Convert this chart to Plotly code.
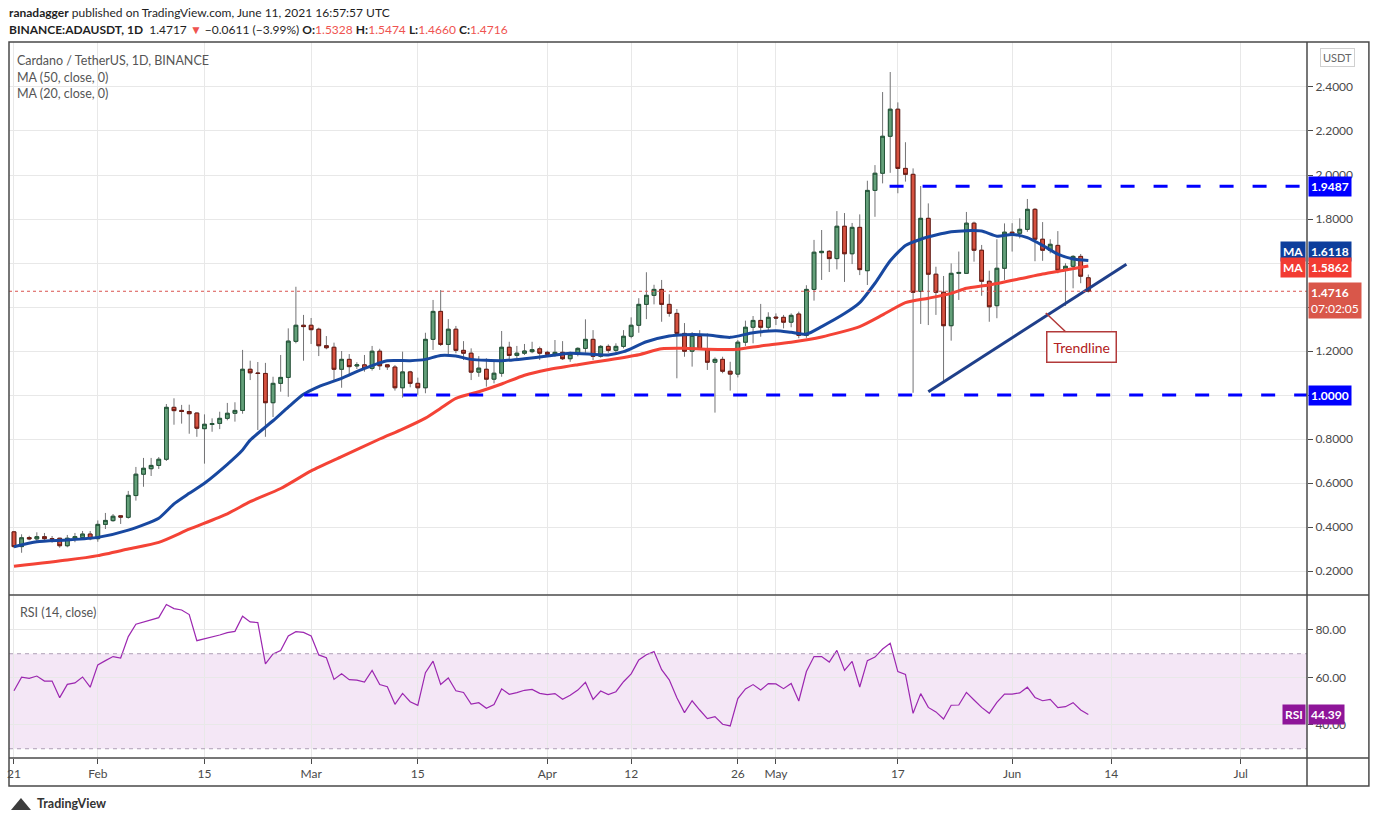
import pandas as pd
import plotly.graph_objects as go
from plotly.subplots import make_subplots

# daily ADA/USDT candles, Jan 21 .. Jun 11 2021
start_day = '2021-01-21'
opens = [0.378, 0.311, 0.352, 0.346, 0.356, 0.347, 0.349, 0.315, 0.349, 0.352,
         0.368, 0.347, 0.412, 0.429, 0.451, 0.444, 0.543, 0.640, 0.665, 0.680,
         0.708, 0.944, 0.930, 0.925, 0.918, 0.847, 0.866, 0.871, 0.894, 0.917,
         0.930, 1.117, 1.100, 1.098, 0.965, 1.053, 1.080, 1.244, 1.317, 1.317,
         1.299, 1.224, 1.217, 1.117, 1.162, 1.132, 1.137, 1.121, 1.199, 1.137,
         1.127, 1.033, 1.105, 1.053, 1.033, 1.253, 1.380, 1.230, 1.299, 1.203,
         1.190, 1.104, 1.117, 1.072, 1.099, 1.217, 1.180, 1.190, 1.197, 1.210,
         1.194, 1.185, 1.194, 1.165, 1.185, 1.212, 1.253, 1.176, 1.221, 1.203,
         1.221, 1.267, 1.317, 1.412, 1.453, 1.480, 1.412, 1.371, 1.280, 1.199,
         1.267, 1.208, 1.149, 1.162, 1.108, 1.095, 1.240, 1.308, 1.339, 1.308,
         1.354, 1.353, 1.331, 1.368, 1.271, 1.480, 1.647, 1.653, 1.620, 1.767,
         1.642, 1.762, 1.565, 1.930, 2.008, 2.176, 2.299, 2.030, 2.003, 1.471,
         1.803, 1.549, 1.467, 1.315, 1.553, 1.553, 1.781, 1.658, 1.517, 1.406,
         1.576, 1.740, 1.735, 1.753, 1.844, 1.708, 1.658, 1.680, 1.567, 1.585,
         1.630, 1.5328]
highs = [0.382, 0.367, 0.360, 0.376, 0.373, 0.359, 0.351, 0.364, 0.373, 0.382,
         0.382, 0.430, 0.464, 0.459, 0.453, 0.564, 0.673, 0.714, 0.714, 0.718,
         0.959, 0.985, 0.955, 0.956, 0.920, 0.912, 0.894, 0.924, 0.964, 0.967,
         1.205, 1.156, 1.150, 1.146, 1.083, 1.182, 1.303, 1.492, 1.364, 1.350,
         1.306, 1.268, 1.238, 1.200, 1.186, 1.149, 1.182, 1.223, 1.210, 1.140,
         1.136, 1.197, 1.110, 1.079, 1.283, 1.432, 1.477, 1.345, 1.314, 1.245,
         1.212, 1.177, 1.167, 1.159, 1.291, 1.242, 1.223, 1.232, 1.242, 1.220,
         1.201, 1.250, 1.245, 1.197, 1.217, 1.344, 1.295, 1.227, 1.230, 1.235,
         1.295, 1.353, 1.440, 1.558, 1.501, 1.523, 1.458, 1.391, 1.327, 1.286,
         1.295, 1.280, 1.171, 1.174, 1.151, 1.250, 1.338, 1.359, 1.414, 1.376,
         1.371, 1.364, 1.371, 1.379, 1.499, 1.705, 1.750, 1.659, 1.836, 1.827,
         1.782, 1.821, 1.974, 2.045, 2.377, 2.468, 2.330, 2.149, 2.030, 1.950,
         1.871, 1.583, 1.541, 1.598, 1.652, 1.832, 1.788, 1.682, 1.565, 1.708,
         1.780, 1.781, 1.803, 1.891, 1.850, 1.786, 1.708, 1.745, 1.599, 1.636,
         1.641, 1.5474]
lows = [0.305, 0.283, 0.340, 0.336, 0.333, 0.329, 0.306, 0.308, 0.331, 0.341,
        0.340, 0.333, 0.391, 0.424, 0.414, 0.438, 0.520, 0.583, 0.632, 0.664,
        0.700, 0.865, 0.870, 0.824, 0.810, 0.688, 0.833, 0.845, 0.885, 0.879,
        0.915, 1.068, 0.841, 0.810, 0.900, 1.015, 0.992, 1.235, 1.156, 1.232,
        1.177, 1.208, 1.068, 1.033, 1.086, 1.118, 1.106, 1.111, 1.114, 1.114,
        1.020, 0.988, 1.035, 1.001, 1.008, 1.205, 1.223, 1.177, 1.190, 1.159,
        1.068, 1.083, 1.038, 1.053, 1.083, 1.156, 1.167, 1.182, 1.190, 1.159,
        1.174, 1.174, 1.159, 1.151, 1.176, 1.192, 1.159, 1.170, 1.192, 1.192,
        1.212, 1.258, 1.283, 1.345, 1.412, 1.333, 1.356, 1.076, 1.174, 1.129,
        1.205, 1.114, 0.920, 1.099, 1.020, 1.080, 1.223, 1.235, 1.265, 1.295,
        1.318, 1.303, 1.308, 1.258, 1.260, 1.429, 1.523, 1.559, 1.571, 1.514,
        1.595, 1.545, 1.500, 1.810, 1.962, 2.010, 1.917, 1.970, 1.010, 1.323,
        1.318, 1.364, 1.061, 1.247, 1.432, 1.550, 1.606, 1.451, 1.333, 1.349,
        1.523, 1.652, 1.712, 1.742, 1.608, 1.610, 1.644, 1.553, 1.405, 1.485,
        1.508, 1.4660]
closes = [0.311, 0.351, 0.346, 0.356, 0.347, 0.345, 0.315, 0.349, 0.356, 0.368,
          0.347, 0.412, 0.430, 0.449, 0.445, 0.544, 0.640, 0.667, 0.680, 0.708,
          0.944, 0.929, 0.925, 0.915, 0.849, 0.867, 0.870, 0.894, 0.917, 0.930,
          1.117, 1.101, 1.098, 0.965, 1.053, 1.080, 1.245, 1.317, 1.311, 1.297,
          1.224, 1.215, 1.117, 1.162, 1.129, 1.137, 1.120, 1.199, 1.133, 1.128,
          1.033, 1.105, 1.053, 1.033, 1.253, 1.380, 1.230, 1.299, 1.203, 1.190,
          1.104, 1.122, 1.072, 1.099, 1.217, 1.180, 1.190, 1.200, 1.206, 1.190,
          1.185, 1.194, 1.165, 1.185, 1.212, 1.253, 1.176, 1.221, 1.203, 1.221,
          1.267, 1.317, 1.412, 1.453, 1.480, 1.412, 1.371, 1.280, 1.199, 1.271,
          1.208, 1.149, 1.162, 1.108, 1.095, 1.240, 1.308, 1.339, 1.308, 1.353,
          1.350, 1.331, 1.362, 1.271, 1.480, 1.649, 1.653, 1.620, 1.767, 1.642,
          1.762, 1.570, 1.930, 2.008, 2.176, 2.299, 2.030, 2.003, 1.467, 1.803,
          1.549, 1.467, 1.315, 1.553, 1.557, 1.781, 1.658, 1.517, 1.401, 1.576,
          1.740, 1.735, 1.753, 1.844, 1.708, 1.658, 1.685, 1.567, 1.585, 1.630,
          1.540, 1.4716]

# moving averages as drawn (sampled along the lines)
ma20_dates = ['2021-01-21', '2021-01-24', '2021-01-28', '2021-02-01', '2021-02-05',
              '2021-02-09', '2021-02-11', '2021-02-13', '2021-02-15', '2021-02-18',
              '2021-02-20', '2021-02-21', '2021-02-24', '2021-02-26', '2021-02-28',
              '2021-03-02', '2021-03-05', '2021-03-08', '2021-03-11', '2021-03-14',
              '2021-03-16', '2021-03-18', '2021-03-20', '2021-03-22', '2021-03-26',
              '2021-03-29', '2021-04-01', '2021-04-04', '2021-04-09', '2021-04-11',
              '2021-04-14', '2021-04-17', '2021-04-19', '2021-04-22', '2021-04-25',
              '2021-04-28', '2021-05-01', '2021-05-03', '2021-05-05', '2021-05-07',
              '2021-05-10', '2021-05-12', '2021-05-14', '2021-05-16', '2021-05-18',
              '2021-05-20', '2021-05-22', '2021-05-24', '2021-05-26', '2021-05-28',
              '2021-05-30', '2021-06-01', '2021-06-03', '2021-06-05', '2021-06-07',
              '2021-06-09', '2021-06-11']
ma20_vals = [0.310, 0.333, 0.341, 0.353, 0.386, 0.440, 0.505, 0.553, 0.599, 0.685,
             0.750, 0.795, 0.883, 0.945, 1.003, 1.038, 1.076, 1.121, 1.156, 1.156,
             1.162, 1.180, 1.177, 1.162, 1.156, 1.165, 1.177, 1.190, 1.182, 1.197,
             1.242, 1.268, 1.274, 1.273, 1.262, 1.283, 1.292, 1.285, 1.277, 1.311,
             1.370, 1.420, 1.508, 1.610, 1.680, 1.708, 1.727, 1.742, 1.747, 1.745,
             1.722, 1.730, 1.715, 1.680, 1.640, 1.618, 1.6118]
ma50_dates = ['2021-01-21', '2021-01-28', '2021-02-01', '2021-02-05', '2021-02-09',
              '2021-02-13', '2021-02-18', '2021-02-21', '2021-02-25', '2021-03-01',
              '2021-03-05', '2021-03-10', '2021-03-13', '2021-03-16', '2021-03-18',
              '2021-03-20', '2021-03-23', '2021-03-26', '2021-03-29', '2021-04-01',
              '2021-04-05', '2021-04-09', '2021-04-13', '2021-04-16', '2021-04-19',
              '2021-04-22', '2021-04-26', '2021-04-29', '2021-05-03', '2021-05-07',
              '2021-05-12', '2021-05-15', '2021-05-18', '2021-05-21', '2021-05-24',
              '2021-05-26', '2021-05-29', '2021-06-02', '2021-06-05', '2021-06-08',
              '2021-06-11']
ma50_vals = [0.222, 0.250, 0.270, 0.300, 0.330, 0.390, 0.460, 0.515, 0.575, 0.655,
             0.720, 0.800, 0.845, 0.895, 0.940, 0.985, 1.015, 1.050, 1.090, 1.115,
             1.138, 1.159, 1.183, 1.210, 1.212, 1.208, 1.208, 1.223, 1.240, 1.264,
             1.311, 1.364, 1.420, 1.440, 1.462, 1.485, 1.500, 1.528, 1.550, 1.568,
             1.5862]

# RSI(14) per day
rsi_vals = [54.4, 60.1, 59.6, 60.6, 58.5, 58.5, 51.5, 57.1, 57.7, 60.2,
            55.9, 65.3, 67.1, 68.8, 68.2, 77.2, 82.4, 83.4, 84.1, 85.2,
            90.7, 89.0, 88.4, 86.5, 75.5, 76.3, 76.9, 77.9, 78.9, 79.4,
            85.8, 83.4, 83.1, 65.7, 69.9, 71.3, 77.5, 79.3, 79.0, 77.5,
            69.5, 68.3, 59.2, 61.6, 59.1, 58.9, 58.1, 63.0, 57.0, 56.1,
            48.7, 53.3, 49.8, 48.3, 62.0, 66.9, 57.1, 59.8, 54.4, 53.7,
            48.8, 49.4, 47.0, 48.6, 55.2, 52.9, 53.6, 54.6, 55.0, 53.3,
            52.8, 53.2, 50.8, 52.5, 54.7, 58.0, 50.8, 54.3, 52.8, 54.0,
            58.2, 61.5, 67.4, 69.6, 70.9, 63.3, 59.0, 51.5, 45.2, 50.2,
            46.3, 42.7, 43.5, 40.3, 39.6, 51.1, 55.2, 57.0, 54.7, 57.4,
            57.3, 55.3, 57.5, 50.1, 62.5, 68.8, 68.8, 66.5, 71.4, 63.0,
            66.8, 56.0, 67.1, 68.6, 72.0, 74.4, 62.5, 61.3, 44.9, 53.2,
            47.4, 45.5, 42.5, 48.3, 48.4, 53.7, 50.5, 47.4, 44.9, 49.5,
            53.0, 53.0, 53.5, 55.9, 51.6, 50.2, 50.8, 47.3, 47.7, 49.4,
            46.3, 44.39]

levels = [1.9487, 1.0]
level_starts = ['2021-05-15 22:00', '2021-02-28 02:00']
trend_dates = ['2021-05-21', '2021-06-16']
trend_vals = [1.015, 1.594]
last_close = 1.4716
ma20_last = 1.6118
ma50_last = 1.5862
rsi_last = 44.39

price_ticks = [0.2, 0.4, 0.6, 0.8, 1.0, 1.2, 1.4, 1.6, 1.8, 2.0, 2.2, 2.4]
price_hidden = [1.0, 1.4, 1.6]      # labels covered by the axis boxes
tick_dates = ['2021-01-21', '2021-02-01', '2021-02-15', '2021-03-01', '2021-03-15',
              '2021-04-01', '2021-04-12', '2021-04-26', '2021-05-01', '2021-05-17',
              '2021-06-01', '2021-06-14', '2021-07-01']
tick_text = ['21', 'Feb', '15', 'Mar', '15', 'Apr', '12', '26', 'May', '17',
             'Jun', '14', 'Jul']

days = pd.date_range(start_day, periods=len(closes), freq='D')
x_lo = pd.Timestamp(start_day) - pd.Timedelta(hours=15.7)
x_hi = pd.Timestamp(start_day) + pd.Timedelta(days=169.7)

W, H = 1376, 823
L, R, T, B = 7, 1307, 42, 758


def px(x):
    return (x - L) / (R - L)


def py(y):
    return (B - y) / (B - T)


GRID = '#e8e8e8'
FRAME = '#4a4a4a'
TXT = '#4a4a4a'
FONT = 'Lato, Open Sans, sans-serif'

fig = make_subplots(rows=2, cols=1, shared_xaxes=True, vertical_spacing=0)

body_lo = [min(o, c) for o, c in zip(opens, closes)]
body_hi = [max(o, c) for o, c in zip(opens, closes)]

# wicks in grey underneath
fig.add_trace(go.Candlestick(
    x=days, open=opens, high=highs, low=lows, close=closes,
    increasing=dict(line=dict(color='#737375', width=1), fillcolor='#737375'),
    decreasing=dict(line=dict(color='#737375', width=1), fillcolor='#737375'),
    hoverinfo='skip', showlegend=False), row=1, col=1)
# bodies on top
fig.add_trace(go.Candlestick(
    x=days, open=opens, high=body_hi, low=body_lo, close=closes,
    increasing=dict(line=dict(color='#225437', width=1), fillcolor='#64a07a'),
    decreasing=dict(line=dict(color='#6b1a12', width=1), fillcolor='#d65240'),
    showlegend=False), row=1, col=1)

fig.add_trace(go.Scatter(x=pd.to_datetime(ma50_dates), y=ma50_vals, mode='lines',
                         line=dict(color='#f44336', width=3, shape='spline', smoothing=0.6),
                         showlegend=False, hoverinfo='skip'), row=1, col=1)
fig.add_trace(go.Scatter(x=pd.to_datetime(ma20_dates), y=ma20_vals, mode='lines',
                         line=dict(color='#1848a0', width=3, shape='spline', smoothing=0.6),
                         showlegend=False, hoverinfo='skip'), row=1, col=1)
fig.add_trace(go.Scatter(x=pd.to_datetime(trend_dates), y=trend_vals, mode='lines',
                         line=dict(color='#1f3f8a', width=3),
                         showlegend=False, hoverinfo='skip'), row=1, col=1)

fig.add_trace(go.Scatter(x=days, y=rsi_vals, mode='lines',
                         line=dict(color='#9c27b0', width=1.2),
                         showlegend=False, hoverinfo='skip'), row=2, col=1)

shapes = []
# RSI band
shapes.append(dict(type='rect', xref='x2 domain', yref='y2', x0=0, x1=1, y0=30, y1=70,
                   fillcolor='rgba(156,39,176,0.11)', line=dict(width=0), layer='below'))
for lv in (70, 30):
    shapes.append(dict(type='line', xref='x2 domain', yref='y2', x0=0, x1=1, y0=lv, y1=lv,
                       line=dict(color='#ad9fb5', width=1, dash='4px,4px')))
# support / resistance levels
for lv, st in zip(levels, level_starts):
    shapes.append(dict(type='line', xref='x', yref='y', x0=st, x1=x_hi, y0=lv, y1=lv,
                       line=dict(color='#0000ff', width=3, dash='14px,19px')))
# last price dotted line
shapes.append(dict(type='line', xref='paper', yref='y', x0=0, x1=1, y0=last_close,
                   y1=last_close, line=dict(color='#d9534f', width=1, dash='dot')))
# frame
fr = dict(color=FRAME, width=1.5)
shapes += [
    dict(type='rect', xref='paper', yref='paper', x0=px(7), x1=px(1369), y0=py(786), y1=py(42),
         line=fr),
    dict(type='line', xref='paper', yref='paper', x0=px(7), x1=px(1369), y0=py(595), y1=py(595),
         line=fr),
    dict(type='line', xref='paper', yref='paper', x0=px(7), x1=px(1369), y0=py(758), y1=py(758),
         line=fr),
    dict(type='line', xref='paper', yref='paper', x0=px(1307), x1=px(1307), y0=py(786), y1=py(42),
         line=fr),
    # small logo mark
    dict(type='path', xref='paper', yref='paper',
         path='M %f %f L %f %f L %f %f Z' % (px(9), py(810), px(19), py(798), px(29), py(810)),
         fillcolor='#3c3c3c', line=dict(width=0)),
]

ann = []


def text(x, y, s, size=12, color=TXT, anchor='left', **kw):
    ann.append(dict(xref='paper', yref='paper', x=px(x), y=py(y), text=s, showarrow=False,
                    xanchor=anchor, yanchor='middle', font=dict(size=size, color=color,
                                                                 family=FONT), **kw))


RED = '#ef5350'
text(5, 12, '<b>ranadagger</b> published on TradingView.com, June 11, 2021 16:57:57 UTC',
     size=12, color='#1f1f1f')
text(5, 29, '<b>BINANCE:ADAUSDT, 1D</b>  1.4717 <span style="color:%s">▼</span> −0.0611 (−3.99%%) '
     '<b>O:</b><span style="color:%s">1.5328</span> <b>H:</b><span style="color:%s">1.5474</span> '
     '<b>L:</b><span style="color:%s">1.4660</span> <b>C:</b><span style="color:%s">1.4716</span>'
     % (RED, RED, RED, RED, RED), size=12, color='#1f1f1f')
text(13, 60, 'Cardano / TetherUS, 1D, BINANCE', size=12.5, color='#555555')
text(13, 77, 'MA (50, close, 0)', size=12.5, color='#555555')
text(13, 94, 'MA (20, close, 0)', size=12.5, color='#555555')
text(16, 612, 'RSI (14, close)', size=12.5, color='#555555')
text(33, 804, '<b>TradingView</b>', size=12.5, color='#333333')
text(1338, 58, 'USDT', size=11, color='#666666', anchor='center', bordercolor='#d0d0d0',
     borderwidth=1, borderpad=2, bgcolor='white')


def axis_box(y, s, bg, yref='y', side='left', lines=1, shift=0):
    ann.append(dict(xref='paper', yref=yref, x=1 if side == 'left' else 0.9999, y=y,
                    text=s, showarrow=False, xanchor=side,
                    yanchor='top' if lines > 1 else 'middle',
                    yshift=(9 if lines > 1 else 0) + shift,
                    xshift=1 if side == 'left' else -1, align='left',
                    bgcolor=bg, borderpad=2, font=dict(size=12, color='white', family=FONT)))


axis_box(levels[0], '<b>%.4f</b>' % levels[0], '#0000ff')
axis_box(levels[1], '<b>%.4f</b>' % levels[1], '#0000ff')
axis_box(ma20_last, '<b>%.4f</b>' % ma20_last, '#0d3e9c', shift=9)
axis_box(ma50_last, '<b>%.4f</b>' % ma50_last, '#f23b32', shift=-1)
axis_box(ma20_last, '<b>MA</b>', '#0d3e9c', side='right', shift=9)
axis_box(ma50_last, '<b>MA</b>', '#f23b32', side='right', shift=-1)
axis_box(last_close, '<b>%.4f</b><br>07:02:05' % last_close, '#d9574a', lines=2)
axis_box(rsi_last, '<b>%.2f</b>' % rsi_last, '#8e1599', yref='y2')
axis_box(rsi_last, '<b>RSI</b>', '#8e1599', yref='y2', side='right')

# callout for the trendline
ann.append(dict(xref='x', yref='y', x='2021-06-05 10:00', y=1.373, ax=36, ay=34,
                text='Trendline', showarrow=True, arrowhead=0, arrowwidth=1.5,
                arrowcolor='#b23a3a', bordercolor='#b23a3a', borderwidth=1.5, borderpad=6,
                bgcolor='white', font=dict(size=14, color='#b22222', family=FONT)))

fig.update_layout(
    width=W, height=H, paper_bgcolor='white', plot_bgcolor='white',
    margin=dict(l=L, r=W - R, t=T, b=H - B),
    font=dict(family=FONT, color=TXT, size=12),
    shapes=shapes, annotations=ann, showlegend=False, hovermode=False,
)
fig.update_xaxes(range=[x_lo, x_hi], tickvals=pd.to_datetime(tick_dates), ticktext=tick_text,
                 showgrid=True, gridcolor=GRID, gridwidth=1, zeroline=False,
                 rangeslider_visible=False, showline=False)
fig.update_xaxes(showticklabels=False, row=1, col=1)
fig.update_xaxes(ticks='outside', ticklen=5, tickcolor=FRAME, tickfont=dict(size=12, color=TXT),
                 row=2, col=1)
fig.update_yaxes(domain=[py(595), 1], range=[0.0910, 2.6045], side='right',
                 tickvals=price_ticks,
                 ticktext=['' if v in price_hidden else '%.4f' % v for v in price_ticks],
                 ticks='outside', ticklen=5, tickcolor=FRAME,
                 showgrid=True, gridcolor=GRID, zeroline=False,
                 tickfont=dict(size=12, color=TXT), row=1, col=1)
fig.update_yaxes(domain=[0, py(596)], range=[26.1, 94.3], side='right',
                 tickvals=[40, 60, 80], tickformat='.2f', ticks='outside', ticklen=5,
                 tickcolor=FRAME, showgrid=True, gridcolor=GRID, zeroline=False,
                 tickfont=dict(size=12, color=TXT), row=2, col=1)

fig.write_html('out.html', config={'displayModeBar': False},
               post_script="document.body.style.margin='0px';")
